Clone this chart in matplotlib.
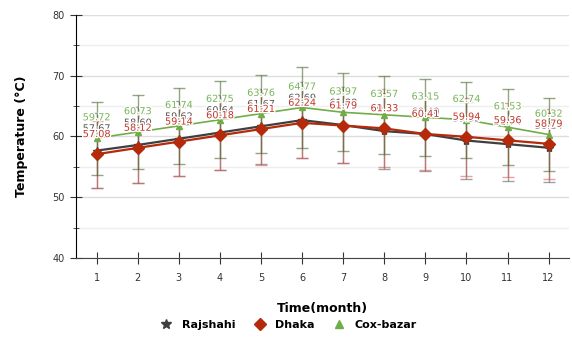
import numpy as np
import matplotlib.pyplot as plt
import matplotlib.patheffects as pe
from matplotlib.ticker import MultipleLocator

months = np.arange(1, 13)

rajshahi = [57.67, 58.60, 59.62, 60.64, 61.67, 62.69, 61.88, 60.88, 60.40, 59.33, 58.74, 58.14]
dhaka = [57.08, 58.12, 59.14, 60.18, 61.21, 62.24, 61.79, 61.33, 60.41, 59.94, 59.36, 58.79]
cox = [59.72, 60.73, 61.74, 62.75, 63.76, 64.77, 63.97, 63.57, 63.15, 62.74, 61.53, 60.32]

rajshahi_err = [6.2, 6.3, 6.2, 6.2, 6.2, 6.3, 6.2, 6.3, 6.1, 6.3, 6.0, 5.7]
dhaka_err = [5.5, 5.7, 5.7, 5.7, 5.9, 5.8, 6.1, 6.4, 5.9, 6.4, 6.1, 5.8]
cox_err = [6.0, 6.1, 6.2, 6.3, 6.4, 6.6, 6.4, 6.4, 6.3, 6.3, 6.2, 6.0]

c_raj = "#3f3f3f"
c_dha = "#b52a0a"
c_cox = "#70ad47"

fig = plt.figure(figsize=(5.72, 3.47), dpi=100)
ax = fig.add_axes([0.133, 0.2565, 0.862, 0.7005])

# error bars
ax.errorbar(months, rajshahi, yerr=rajshahi_err, fmt="none", ecolor="#555555",
            elinewidth=1, capsize=4, alpha=0.55, zorder=2)
ax.errorbar(months, dhaka, yerr=dhaka_err, fmt="none", ecolor="#d9534f",
            elinewidth=1, capsize=4, alpha=0.55, zorder=2)
ax.errorbar(months, cox, yerr=cox_err, fmt="none", ecolor="#4a6b30",
            elinewidth=1, capsize=4, alpha=0.6, zorder=2)

# lines
ax.plot(months, cox, color=c_cox, lw=1.2, marker="^", ms=5, zorder=3)
ax.plot(months, rajshahi, color=c_raj, lw=1.6, marker="*", ms=6, zorder=4)
ax.plot(months, dhaka, color=c_dha, lw=1.6, marker="D", ms=6.5, zorder=5)

halo = [pe.withStroke(linewidth=2, foreground="white")]
for x, v in zip(months, rajshahi):
    ax.annotate(f"{v:.2f}", (x, v), xytext=(0, 16), textcoords="offset points",
                ha="center", va="center", fontsize=7, color="#555555",
                path_effects=halo, zorder=6)
for x, v in zip(months, dhaka):
    ax.annotate(f"{v:.2f}", (x, v), xytext=(0, 14.5), textcoords="offset points",
                ha="center", va="center", fontsize=7, color="#c0392b",
                path_effects=halo, zorder=7)
for x, v in zip(months, cox):
    ax.annotate(f"{v:.2f}", (x, v), xytext=(0, 15), textcoords="offset points",
                ha="center", va="center", fontsize=7, color="#7ab55c",
                path_effects=halo, zorder=6)

ax.set_xlim(0.5, 12.5)
ax.set_ylim(40, 80)
ax.set_xticks(months)
ax.yaxis.set_major_locator(MultipleLocator(10))
ax.yaxis.set_minor_locator(MultipleLocator(5))
ax.grid(axis="y", which="major", color="#dddddd", lw=1, zorder=0)
ax.grid(axis="y", which="minor", color="#eeeeee", lw=1, zorder=0)
ax.set_axisbelow(True)

for s in ["top", "right"]:
    ax.spines[s].set_visible(False)
ax.spines["left"].set_color("black")
ax.spines["bottom"].set_color("#444444")
ax.tick_params(axis="both", which="major", direction="inout", length=9,
               labelsize=7, labelcolor="#333333", color="#333333")
ax.tick_params(axis="y", which="minor", direction="inout", length=5, color="#333333")
ax.tick_params(axis="x", pad=6)

ax.set_xlabel("Time(month)", fontsize=9, fontweight="bold", labelpad=14)
ax.set_ylabel("Temperature (°C)", fontsize=9, fontweight="bold", labelpad=18)

h1 = plt.Line2D([], [], ls="none", marker="*", ms=7, color=c_raj)
h2 = plt.Line2D([], [], ls="none", marker="D", ms=6, color=c_dha)
h3 = plt.Line2D([], [], ls="none", marker="^", ms=6, color=c_cox)
fig.legend([h1, h2, h3], ["Rajshahi", "Dhaka", "Cox-bazar"], loc="center",
           bbox_to_anchor=(0.5, 0.063), ncol=3, frameon=False,
           prop={"weight": "bold", "size": 8}, handletextpad=0.4, columnspacing=1.2)

plt.savefig("out.png", dpi=100)
